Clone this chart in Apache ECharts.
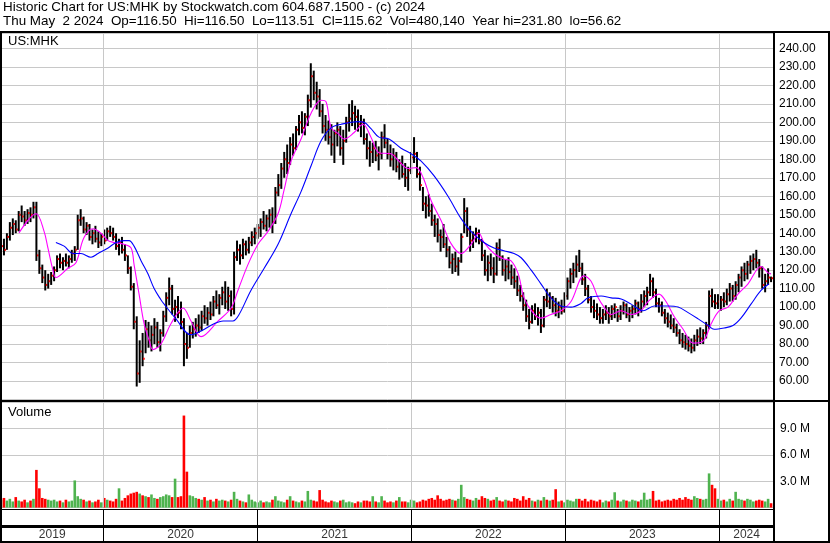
<!DOCTYPE html>
<html><head><meta charset="utf-8">
<script src="https://cdn.jsdelivr.net/npm/echarts@6/dist/echarts.min.js"></script>
<style>html,body{margin:0;padding:0;background:#fff}#c{width:830px;height:543px}</style>
</head><body><div id="c"></div>
<script>
// ---- data (weekly bars) ----
const startDate = '2019-05-03';
const yearStarts = ['2020-01-01','2021-01-01','2022-01-01','2023-01-01','2024-01-01'];
const yearNames = ['2019','2020','2021','2022','2023','2024'];
const titleLine1 = 'Historic Chart for US:MHK by Stockwatch.com 604.687.1500 - (c) 2024';
const titleLine2 = 'Thu May  2 2024  Op=116.50  Hi=116.50  Lo=113.51  Cl=115.62  Vol=480,140  Year hi=231.80  lo=56.62';
const symbolName = 'US:MHK';
const volumeName = 'Volume';

const weekHigh = [140,137,140,146,148,147,152,155,152,153,154,157,157,131,123,120,118,119,122,128,
129,127,129,128,131,133,150,153,149,146,145,142,144,141,140,142,143,144,143,140,
137,138,134,128,122,113,95,82,86,93,92,90,94,92,88,98,108,116,112,104,
106,103,94,86,90,92,94,96,98,101,100,103,106,109,107,111,114,111,109,130,
136,134,137,136,138,141,143,145,148,152,150,153,154,165,172,178,184,188,192,194,
198,204,206,205,215,232,228,222,218,210,204,201,199,196,200,198,196,203,210,212,
209,207,204,202,194,190,189,190,187,195,199,191,188,186,184,180,182,178,176,184,
192,184,176,165,160,161,156,150,148,142,145,138,133,129,130,127,140,159,154,144,
141,143,142,137,131,128,129,127,135,137,128,126,127,123,121,117,112,108,104,99,
101,102,100,99,106,110,108,106,105,103,104,108,116,121,124,128,131,124,118,112,
106,104,102,100,99,101,100,101,102,99,101,103,102,100,101,104,103,107,109,111,
118,116,110,105,103,99,97,96,94,91,88,86,85,84,83,85,88,89,88,92,
109,110,107,107,106,108,110,113,112,114,118,122,124,125,128,129,131,126,122,118,
121,116.5];
const weekLow = [130,128,131,136,139,140,141,146,144,145,146,148,125,118,113,109,110,112,114,119,
121,120,122,121,124,125,131,144,140,139,136,134,135,132,133,134,136,138,136,131,
128,129,125,118,109,88,57,59,68,75,78,76,80,78,76,84,92,101,96,92,
94,88,68,72,78,83,84,86,87,91,90,93,95,99,96,101,99,98,95,96,
125,123,126,128,129,133,134,137,138,142,141,143,140,145,160,164,170,172,177,182,
185,193,194,193,198,208,212,207,203,194,190,188,182,178,187,182,177,189,195,198,
196,195,192,188,180,176,178,179,174,180,186,180,176,174,173,169,170,165,163,172,
178,170,163,152,148,149,144,138,135,130,132,127,121,118,119,117,124,140,138,130,
132,135,134,125,117,114,117,113,117,125,117,114,115,112,110,106,103,98,92,88,
91,93,90,86,89,100,99,97,95,94,96,97,104,110,113,116,119,112,106,102,
97,94,93,91,91,93,91,93,94,92,93,96,94,92,94,96,95,97,100,101,
106,105,100,97,95,91,89,88,86,84,80,78,77,76,75,76,79,80,80,83,
88,100,99,99,98,100,101,103,103,104,108,111,114,115,118,120,121,116,110,108,
112,113.51];
const weekClose = [133,131,138,143,145,142,150,149,147,151,150,154,128,121,116,112,114,117,120,126,
124,125,124,126,129,131,147,148,142,144,138,140,137,135,138,136,141,140,138,133,
135,131,128,121,111,92,64,76,72,88,82,85,89,81,86,95,105,110,99,100,
97,92,80,78,86,88,90,89,95,94,97,96,103,101,105,108,103,106,99,127,
131,128,134,131,135,138,140,143,146,144,148,150,146,162,166,175,180,178,188,186,
196,200,197,203,212,225,216,214,206,198,196,192,188,194,196,186,190,200,202,205,
203,199,200,191,186,184,186,182,183,192,189,183,180,182,176,178,172,170,174,181,
183,172,166,156,155,152,147,145,139,138,134,131,124,126,122,125,138,152,142,136,
139,140,136,128,120,124,121,118,132,127,120,122,119,116,114,109,106,101,95,92,
98,95,97,90,104,103,105,101,98,100,98,106,114,118,120,123,121,115,110,104,
100,98,96,94,96,97,95,99,100,95,98,101,96,98,99,102,99,103,106,108,
114,108,102,101,97,94,92,90,89,86,82,81,80,79,78,82,84,83,86,90,
106,103,102,103,104,103,107,110,106,112,116,120,118,123,125,126,124,121,112,114,
116,115.62];
const weekVolM = [0.9,1.1,0.8,1.0,0.7,1.2,0.8,0.7,0.9,0.6,
0.8,1.0,4.3,2.2,1.1,1.0,0.9,0.8,0.9,0.7,
0.8,0.6,0.9,0.7,0.8,3.1,1.3,1.0,0.9,0.7,
0.8,0.6,0.7,0.9,0.6,1.1,0.9,0.8,0.7,1.0,
2.2,0.8,1.1,1.4,1.6,1.7,1.8,1.6,1.4,1.3,
1.2,1.5,1.1,1.0,1.2,1.3,1.5,1.4,1.2,3.3,
1.2,1.3,10.5,4.1,1.4,1.3,1.1,1.0,0.9,1.2,
0.8,0.9,0.7,1.0,0.8,0.9,0.8,0.7,0.9,1.8,
1.0,0.8,0.7,0.6,1.5,0.9,0.7,0.6,0.8,0.6,
0.7,0.6,0.9,1.3,0.8,0.7,0.6,0.9,1.3,0.8,
0.7,0.6,0.8,0.7,1.9,0.9,0.8,0.7,2.0,0.9,
0.7,0.6,0.8,0.7,0.6,0.8,0.9,0.6,0.7,0.6,
0.5,0.7,0.6,0.8,0.8,0.7,1.3,0.7,0.6,1.3,
0.8,0.6,0.7,0.6,0.8,1.2,0.7,0.7,0.6,0.9,
0.8,0.6,0.7,0.9,0.8,1.0,1.1,0.9,1.4,1.0,
0.8,0.9,1.0,0.9,0.8,1.0,2.6,1.2,1.0,0.9,
0.8,1.1,0.9,1.3,1.1,1.0,0.8,0.9,1.2,0.8,
0.7,0.9,0.8,0.7,1.1,1.0,0.8,1.3,0.9,1.1,
0.8,0.7,0.9,0.8,1.2,0.9,0.8,0.9,2.1,0.7,
0.8,0.6,0.9,0.8,0.7,1.0,1.0,0.8,1.0,0.7,
0.9,0.8,0.7,0.9,0.6,0.8,0.7,0.9,1.75,0.8,
0.7,0.9,0.8,0.7,0.9,0.8,0.7,0.9,1.7,0.9,
1.0,1.9,0.8,0.9,0.7,0.8,0.9,0.8,1.0,0.9,
1.1,0.9,1.2,1.0,0.9,1.3,1.1,1.0,0.9,1.0,
3.9,2.6,2.2,1.0,0.8,0.9,0.7,1.0,0.8,1.8,
1.0,0.9,0.8,1.0,0.9,0.7,0.8,0.9,0.8,0.7,
1.0,0.5];
// moving averages: [week index, value]
const maShort = [[6.1,140.2],[11.9,150.5],[14.6,141],[15.9,132],[17.6,120],[18.6,116],[22.7,121],[25.4,124],[28.1,137.5],[31.2,142.4],[33.9,140],[36.3,136],[38.3,135],[41.7,134],[44.1,132],[45.1,123],[46.8,107],[48.5,91],[50.2,82],[51.5,77],[54.2,80],[57.6,91],[61.7,99.5],[64.4,92.5],[67.8,84],[73.6,92.5],[78,99.5],[80.3,109],[83.7,123],[87.1,134],[90.5,141],[93.9,150.5],[95.9,163],[98.3,179],[101.7,191],[105.1,205],[108.5,212],[110.2,211],[111.9,197],[114.2,194],[116.3,191],[119.7,194.5],[122.7,199],[125.4,192],[128.1,183.6],[132.2,183],[134.9,179],[138,175],[140.7,175.5],[143.1,170],[145.8,157.6],[149.2,146.7],[152.5,134.5],[155.9,129],[159.3,134],[162,140],[163.7,135],[167.1,129],[170.5,126],[172.9,125],[175.3,118],[177.3,105],[180.3,97],[183,94],[186.4,96],[189.8,98],[193.2,103],[197.6,117],[200,114],[202.4,105],[204.4,100],[206.8,96],[210.2,98],[213.6,96],[216.9,98],[219.3,103],[223,107],[225.4,103],[228.1,95],[231.2,88],[234.6,80.5],[238,81.6],[240.7,91],[243.4,98],[246.4,100],[249.8,107],[253.2,112.6],[257.6,122],[260,118.5],[261,118]];
const maLong = [[18.6,135],[21.4,133],[24.4,129],[27.1,129],[30.5,127],[32.9,129],[36.3,132],[39,135],[41.7,136],[43.4,136],[45.1,133],[47.5,125],[49.8,118],[51.9,110],[54.2,104],[55.3,101.6],[59.3,93.6],[64.4,85],[67.8,87],[72.2,91],[75.3,92.5],[78.6,92.5],[80.7,96],[84.7,109],[89.2,121],[93.9,134],[98.3,150.5],[101.7,162.5],[105.1,176.5],[108.5,190],[111.9,197],[115.3,199],[121,200.4],[123.1,200],[125.4,196.6],[128.1,192],[131.5,191],[135.6,186],[139,183],[142.4,179],[146.8,171],[151.5,160],[155.9,148],[159.3,141],[163.7,135],[167.1,132],[170.5,130.5],[173.9,129],[176.3,126.7],[179.7,120],[183,112.6],[186.4,105],[189.8,100.6],[193.2,100],[196.6,102],[199,105],[203.4,106],[206.8,105],[210.2,104.4],[213.6,101.6],[217.6,98],[221.4,100.6],[226.1,100.6],[229.5,100],[232.9,97],[236.3,93.6],[239.7,90],[241.7,88],[245.1,88.7],[248.1,90],[250.8,94],[254.2,101.6],[257.6,109],[260.3,112.6]];

// ---- build ----
const WEEK = 7*86400000;
const t0 = Date.parse(startDate);
const yearBounds = yearStarts.map(d => (Date.parse(d) - t0) / WEEK);
const X_MIN = 0, X_MAX = 262;
const edges = [X_MIN].concat(yearBounds, [X_MAX]);
const yearLabelData = yearNames.map((n, k) => [(edges[k] + edges[k+1]) / 2, 0.5, n]);
const ohlc = weekHigh.map((h, i) => [i, h, weekLow[i], weekClose[i]]);
const vols = weekVolM.map((v, i) => [i, v]);
const GREEN = '#4fb34f', RED = '#ff0000';
const FONT = 'Liberation Sans, Arial, sans-serif';

function vLines(color, w) {
  return { silent: true, symbol: ['none','none'], animation: false, label: {show:false},
    emphasis: {disabled: true},
    lineStyle: {color: color, width: w, type: 'solid'}, data: yearBounds.map(b => ({xAxis: b})) };
}
const xa = g => ({type:'value', gridIndex:g, min:X_MIN, max:X_MAX, show:false});

const chart = echarts.init(document.getElementById('c'), null, {renderer:'canvas'});
chart.setOption({
  animation: false,
  backgroundColor: '#fff',
  title: [
    {text: titleLine1, left: 3, top: 1, padding: 0, textStyle:{fontSize:13.4, fontWeight:'normal', color:'#000', fontFamily:FONT}},
    {text: titleLine2, left: 3, top: 15, padding: 0, textStyle:{fontSize:13.4, fontWeight:'normal', color:'#000', fontFamily:FONT}},
    {text: symbolName, left: 8, top: 35, padding: 0, textStyle:{fontSize:13, fontWeight:'normal', color:'#000', fontFamily:FONT}},
    {text: volumeName, left: 8, top: 406, padding: 0, textStyle:{fontSize:13, fontWeight:'normal', color:'#000', fontFamily:FONT}}
  ],
  grid: [
    {left: 1, right: 56, top: 33.7, height: 365.75},
    {left: 1, right: 56, top: 402.4, height: 105.2},
    {left: 1, right: 56, top: 510, height: 15},
    {left: 1, right: 56, top: 528, height: 13}
  ],
  xAxis: [xa(0), xa(1), xa(2), xa(3)],
  yAxis: [
    {type:'value', gridIndex:0, position:'right', min:50, max:248, interval:10,
     axisLine:{show:false}, axisTick:{show:false},
     axisLabel:{margin:5, fontSize:12, color:'#000', fontFamily:FONT,
       formatter: v => (v >= 60 && v <= 240 && v % 10 === 0) ? v.toFixed(2) : ''},
     splitLine:{lineStyle:{color:'#c8c8c8', width:1}}},
    {type:'value', gridIndex:1, position:'right', min:0, max:12, interval:3,
     axisLine:{show:false}, axisTick:{show:false},
     axisLabel:{margin:6, fontSize:12, color:'#000', fontFamily:FONT,
       formatter: v => (v > 0 && v < 12) ? v.toFixed(1) + ' M' : ''},
     splitLine:{lineStyle:{color:'#c8c8c8', width:1}}},
    {type:'value', gridIndex:2, min:0, max:1, show:false},
    {type:'value', gridIndex:3, min:0, max:1, show:false}
  ],
  series: [
    {type:'custom', xAxisIndex:0, yAxisIndex:0, data: ohlc, encode:{x:0, y:[1,2,3]}, z:2,
     markLine: vLines('#c8c8c8', 1),
     renderItem: (params, api) => {
       const i = api.value(0);
       const top = api.coord([i, api.value(1)]);
       const bot = api.coord([i, api.value(2)]);
       const cl = api.coord([i, api.value(3)]);
       return {type:'group', children:[
         {type:'line', shape:{x1:top[0], y1:top[1], x2:bot[0], y2:bot[1]}, style:{stroke:'#000', lineWidth:2}},
         {type:'rect', shape:{x:cl[0]+0.5, y:cl[1]-1, width:1.6, height:2}, style:{fill:'#ff0000'}}
       ]};
     }},
    {type:'line', xAxisIndex:0, yAxisIndex:0, data: maShort, symbol:'none', smooth:0.35, z:5,
     lineStyle:{color:'#ff00ff', width:1.1}},
    {type:'line', xAxisIndex:0, yAxisIndex:0, data: maLong, symbol:'none', smooth:0.35, z:5,
     lineStyle:{color:'#0000ff', width:1.1}},
    {type:'bar', xAxisIndex:1, yAxisIndex:1, data: vols, barWidth: 2.6, z:2,
     markLine: vLines('#c8c8c8', 1),
     itemStyle:{color: p => (p.dataIndex === 0 || weekClose[p.dataIndex] >= weekClose[p.dataIndex-1]) ? GREEN : RED}},
    {type:'scatter', xAxisIndex:2, yAxisIndex:2, data: yearLabelData, symbolSize:1,
     itemStyle:{color:'rgba(0,0,0,0)'}, markLine: vLines('#000', 1)},
    {type:'scatter', xAxisIndex:3, yAxisIndex:3, data: yearLabelData, symbolSize:1,
     itemStyle:{color:'rgba(0,0,0,0)'}, markLine: vLines('#000', 1),
     label:{show:true, position:'inside', formatter: p => p.value[2], fontSize:12, color:'#000', fontFamily:FONT}}
  ],
  graphic: [
    {type:'rect', z:100, shape:{x:0, y:31, width:830, height:2}, style:{fill:'#000'}},
    {type:'rect', z:100, shape:{x:0, y:31, width:2, height:512}, style:{fill:'#000'}},
    {type:'rect', z:100, shape:{x:828, y:31, width:2, height:512}, style:{fill:'#000'}},
    {type:'rect', z:100, shape:{x:773, y:31, width:2, height:512}, style:{fill:'#000'}},
    {type:'rect', z:100, shape:{x:0, y:400, width:830, height:2}, style:{fill:'#000'}},
    {type:'rect', z:100, shape:{x:0, y:509, width:775, height:1}, style:{fill:'#000'}},
    {type:'rect', z:100, shape:{x:0, y:525, width:775, height:3}, style:{fill:'#000'}},
    {type:'rect', z:100, shape:{x:0, y:541, width:830, height:2}, style:{fill:'#000'}}
  ]
});
</script>
</body></html>
